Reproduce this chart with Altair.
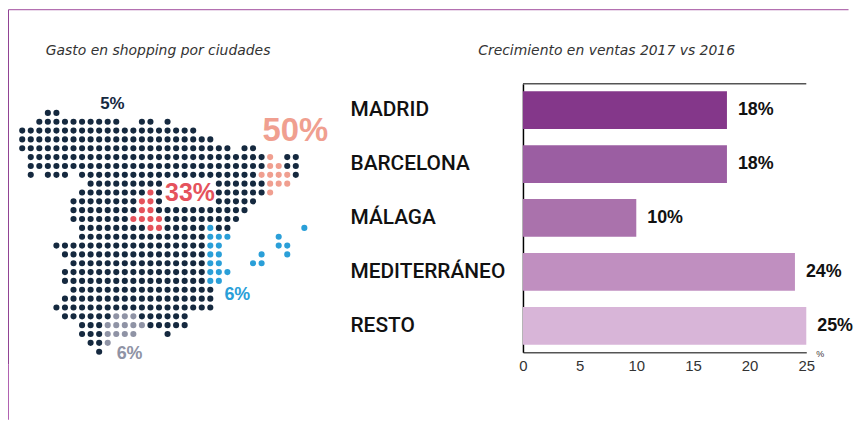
import altair as alt
import pandas as pd

# ---- bar chart values ----
CATEGORIES = ["MADRID", "BARCELONA", "MÁLAGA", "MEDITERRÁNEO", "RESTO"]
GROWTH = [18, 18, 10, 24, 25]
BAR_COLORS = ["#84378a", "#9b5ea2", "#aa72ac", "#c08fc0", "#d8b5d8"]
X_TICKS = [0, 5, 10, 15, 20, 25]

# ---- dot map: for each row, runs of (first column, last column, group) ----
DOT_RUNS = {
    0: [(3, 4, "n")],
    1: [(2, 11, "n"), (14, 15, "n"), (17, 17, "n")],
    2: [(0, 20, "n")],
    3: [(0, 22, "n")],
    4: [(0, 24, "n"), (26, 27, "n")],
    5: [(1, 28, "n"), (29, 29, "s"), (31, 32, "n")],
    6: [(1, 28, "n"), (29, 30, "s"), (31, 32, "n")],
    7: [(1, 1, "n"), (3, 5, "n"), (7, 27, "n"), (28, 31, "s"), (32, 32, "n")],
    8: [(8, 16, "n"), (23, 28, "n"), (29, 31, "s")],
    9: [(7, 14, "n"), (15, 15, "r"), (16, 16, "n"), (23, 28, "n"), (29, 29, "s")],
    10: [(6, 13, "n"), (14, 15, "r"), (16, 16, "n"), (23, 27, "n")],
    11: [(6, 13, "n"), (14, 15, "r"), (16, 26, "n")],
    12: [(6, 12, "n"), (13, 16, "r"), (17, 25, "n")],
    13: [(7, 14, "n"), (15, 16, "r"), (17, 21, "n"), (22, 22, "b"), (23, 24, "n"), (33, 33, "b")],
    14: [(7, 21, "n"), (22, 24, "b"), (30, 30, "b")],
    15: [(4, 21, "n"), (22, 23, "b"), (30, 31, "b")],
    16: [(5, 21, "n"), (22, 23, "b"), (28, 28, "b"), (31, 31, "b")],
    17: [(6, 21, "n"), (22, 23, "b"), (27, 28, "b")],
    18: [(5, 21, "n"), (22, 24, "b")],
    19: [(5, 21, "n"), (22, 23, "b")],
    20: [(6, 22, "n")],
    21: [(5, 22, "n")],
    22: [(4, 22, "n")],
    23: [(5, 10, "n"), (11, 13, "g"), (14, 19, "n")],
    24: [(7, 9, "n"), (10, 14, "g"), (15, 19, "n")],
    25: [(7, 9, "n"), (10, 13, "g"), (17, 17, "n")],
    26: [(8, 9, "n"), (10, 10, "g")],
    27: [(9, 9, "n")],
}
GROUPS = ["n", "s", "r", "b", "g"]
GROUP_COLORS = ["#15293f", "#f09f90", "#e5525c", "#2a9fd8", "#8f93a5"]

ORIGIN_X, ORIGIN_Y = 518, 75     # plot-area origin inside the chart


def px(x):
    return x - 8 - ORIGIN_X


def py(y):
    return y - 8 - ORIGIN_Y


dots = pd.DataFrame(
    [
        {"col": c, "row": r, "group": g}
        for r, runs in DOT_RUNS.items()
        for a, b, g in runs
        for c in range(a, b + 1)
    ]
)
bars = pd.DataFrame({"cat": CATEGORIES, "v": GROWTH, "lab": [f"{v}%" for v in GROWTH]})
one = pd.DataFrame({"a": [0]})

y_scale = alt.Scale(domain=CATEGORIES, paddingInner=0.3, paddingOuter=0.14)
x_scale = alt.Scale(domain=[0, 25], nice=False, zero=True)

bar_layer = alt.Chart(bars).mark_bar().encode(
    x=alt.X(
        "v:Q",
        scale=x_scale,
        axis=alt.Axis(
            title=None, values=X_TICKS, grid=False, ticks=False, domainColor="#555555",
            domainWidth=1.5, labelFontSize=15, labelColor="#333333", labelFont="Liberation Sans",
            labelPadding=6, labelFlush=False,
        ),
    ),
    y=alt.Y(
        "cat:N",
        scale=y_scale,
        sort=CATEGORIES,
        axis=alt.Axis(
            title=None, ticks=False, domainColor="#000000", domainWidth=1.5,
            labelFontSize=21, labelFont="Roboto", labelFontWeight=500,
            labelColor="#111111", labelAlign="left", labelPadding=174, labelLimit=300,
        ),
    ),
    color=alt.Color("cat:N", scale=alt.Scale(domain=CATEGORIES, range=BAR_COLORS), legend=None),
)
value_labels = alt.Chart(bars).mark_text(
    align="left", dx=11, fontSize=18, fontWeight="bold", font="Liberation Sans", color="#111111"
).encode(
    x=alt.X("v:Q", scale=x_scale),
    y=alt.Y("cat:N", scale=y_scale, sort=CATEGORIES),
    text="lab:N",
)
bar_part = alt.layer(bar_layer, value_labels)

dot_layer = alt.Chart(dots).mark_circle(size=38, opacity=1).encode(
    x=alt.X(
        "col:Q",
        axis=None,
        scale=alt.Scale(domain=[0, 33], nice=False, zero=False, range=[px(22.3), px(22.3 + 8.6 * 33)]),
    ),
    y=alt.Y(
        "row:Q",
        axis=None,
        scale=alt.Scale(domain=[0, 27], nice=False, zero=False, range=[py(112.3), py(352.5)]),
    ),
    color=alt.Color("group:N", scale=alt.Scale(domain=GROUPS, range=GROUP_COLORS), legend=None),
)


def label(text, x, y, size, color, weight="bold", font="Liberation Sans", style="normal", align="center"):
    return alt.Chart(one).mark_text(
        fontSize=size, fontWeight=weight, font=font, fontStyle=style, align=align, baseline="middle"
    ).encode(
        x=alt.value(px(x)), y=alt.value(py(y)), text=alt.value(text), color=alt.value(color)
    )


def hline(x1, x2, y, color, w):
    return alt.Chart(one).mark_rule(strokeWidth=w, color=color).encode(
        x=alt.value(px(x1)), x2=alt.value(px(x2)), y=alt.value(py(y))
    )


def vline(x, y1, y2, color, w):
    return alt.Chart(one).mark_rule(strokeWidth=w, color=color).encode(
        x=alt.value(px(x)), y=alt.value(py(y1)), y2=alt.value(py(y2))
    )


annots = [
    label("Gasto en shopping por ciudades", 46, 50, 14, "#333333", "normal", "DejaVu Sans", "italic", "left"),
    label("Crecimiento en ventas 2017 vs 2016", 481, 50, 14, "#333333", "normal", "DejaVu Sans", "italic", "left"),
    label("5%", 113, 103, 17, "#15293f"),
    label("50%", 297, 131, 33, "#f09f90"),
    label("33%", 191, 193, 25, "#e5525c"),
    label("6%", 238.7, 296, 18, "#2a9fd8"),
    label("6%", 130.3, 355, 18, "#8f93a5"),
    label("%", 825, 355, 9, "#333333", "normal"),
    hline(526, 811, 83, "#555555", 1.5),
    hline(8.5, 853.5, 8.5, "#a04a9c", 1),
    vline(8.5, 8.5, 365, "#8f3f92", 1),
    vline(8.5, 365, 421, "#b060b0", 1),
]

chart = (
    alt.layer(bar_part, dot_layer, *annots)
    .resolve_scale(x="independent", y="independent", color="independent")
    .properties(width=285, height=270, padding=0)
    .configure_view(stroke=None)
)

chart.save("out.html", embed_options={"renderer": "svg", "actions": False})
